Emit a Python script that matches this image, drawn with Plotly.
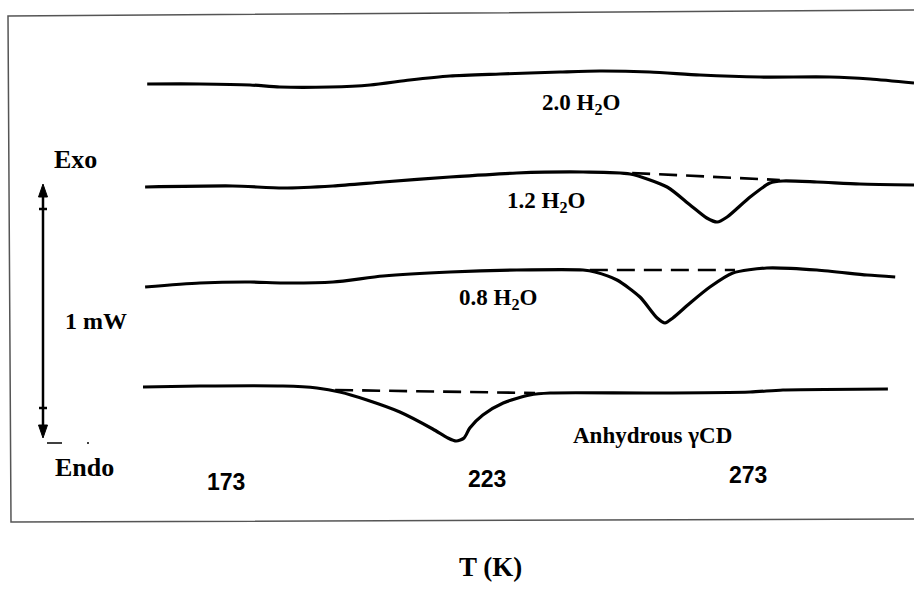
import plotly.graph_objects as go

# DSC thermograms of gamma-cyclodextrin at different hydration levels
# Temperature in K; heat flow in mW relative to each trace's own baseline.
W, H = 914, 593

T_20 = [157.9, 168.0, 177.6, 183.3, 192.9, 200.6, 208.2, 215.9, 225.5, 237.0,
        244.6, 254.2, 263.8, 275.3, 288.7, 296.4, 304.8]
Q_20 = [-0.005, -0.005, -0.01, -0.02, -0.02, -0.01, 0.015, 0.035, 0.045, 0.055,
        0.06, 0.055, 0.04, 0.03, 0.03, 0.02, 0.0]

T_12 = [157.5, 174.3, 183.9, 193.5, 203.1, 215.9, 228.7, 241.4, 250.4, 257.5,
        261.9, 265.1, 267.1, 269.0, 273.4, 277.2, 279.7, 286.2, 294.4, 304.8]
Q_12 = [-0.01, -0.005, -0.015, -0.005, 0.015, 0.04, 0.06, 0.065, 0.055, -0.01,
        -0.10, -0.165, -0.185, -0.16, -0.06, 0.01, 0.02, 0.015, 0.005, 0.0]

T_08 = [157.5, 168.0, 177.6, 183.9, 193.5, 203.1, 215.9, 228.7, 241.4, 243.7,
        247.9, 252.3, 255.6, 257.1, 258.6, 261.9, 265.7, 270.1, 276.6, 286.2,
        295.8, 301.2]
Q_08 = [0.0, 0.02, 0.025, 0.02, 0.025, 0.055, 0.075, 0.085, 0.085, 0.075,
        0.035, -0.05, -0.155, -0.18, -0.155, -0.08, 0.0, 0.07, 0.095, 0.085,
        0.06, 0.05]

T_anh = [157.1, 168.0, 183.9, 190.4, 194.8, 200.0, 206.3, 212.6, 215.5, 217.1,
         218.6, 219.7, 222.2, 226.1, 231.2, 235.1, 254.2, 273.4, 279.7, 299.8]
Q_anh = [0.0, 0.005, 0.005, -0.005, -0.025, -0.065, -0.125, -0.21, -0.255, -0.27,
         -0.255, -0.205, -0.14, -0.08, -0.04, -0.03, -0.03, -0.025, -0.015, -0.01]

# Interpolated baselines under the endotherms (start T, end T, start Q, end Q)
base_12 = ([250.8, 279.1], [0.06, 0.025])
base_08 = ([242.7, 270.5], [0.085, 0.085])
base_anh = ([193.9, 232.2], [-0.015, -0.03])

# Vertical stacking offsets (mW) of the four traces
offsets = {"2.0": 2.55, "1.2": 2.04, "0.8": 1.53, "anh": 1.03}

tick_T = [173, 223, 273]
tick_text = ["173", "223", "273"]

X_RANGE = [129.7, 304.8]
Y_RANGE = [0.0, H / 200.0]

fig = go.Figure()

def trace(T, Q, off, dash=None, width=3.2):
    fig.add_trace(go.Scatter(
        x=T, y=[q + off for q in Q], mode="lines",
        line=dict(color="black", width=width, dash=dash,
                  shape="linear" if dash else "spline", smoothing=0.7),
        hoverinfo="skip", showlegend=False))

trace(T_20, Q_20, offsets["2.0"])
trace(T_12, Q_12, offsets["1.2"])
trace(T_08, Q_08, offsets["0.8"])
trace(T_anh, Q_anh, offsets["anh"])
trace(base_12[0], base_12[1], offsets["1.2"], dash="18px,9px", width=2.6)
trace(base_08[0], base_08[1], offsets["0.8"], dash="18px,9px", width=2.6)
trace(base_anh[0], base_anh[1], offsets["anh"], dash="18px,9px", width=2.6)

def px(x):
    return x / W

def py(y):
    return 1 - y / H

shapes = []
# Frame around the plot
frame = [(8, 16), (916, 10), (916, 519), (11, 522)]
path = "M " + " L ".join(f"{px(a)},{py(b)}" for a, b in frame) + " Z"
shapes.append(dict(type="path", xref="paper", yref="paper", path=path,
                   line=dict(color="#555555", width=1.5)))

# Exo/Endo scale arrow (1 mW between the crossbars)
ax = 43
shapes.append(dict(type="line", xref="paper", yref="paper",
                   x0=px(ax), x1=px(ax), y0=py(192), y1=py(431),
                   line=dict(color="black", width=2.5)))
for yb in (209, 408):
    shapes.append(dict(type="line", xref="paper", yref="paper",
                       x0=px(ax - 4), x1=px(ax + 4), y0=py(yb), y1=py(yb),
                       line=dict(color="black", width=2.5)))
up = [(ax, 184), (ax - 4.5, 197), (ax + 4.5, 197)]
dn = [(ax, 438), (ax - 4.5, 425), (ax + 4.5, 425)]
for tri in (up, dn):
    p = "M " + " L ".join(f"{px(a)},{py(b)}" for a, b in tri) + " Z"
    shapes.append(dict(type="path", xref="paper", yref="paper", path=p,
                       fillcolor="black", line=dict(color="black", width=1)))
shapes.append(dict(type="line", xref="paper", yref="paper",
                   x0=px(47), x1=px(62), y0=py(443), y1=py(443),
                   line=dict(color="black", width=1.5)))
shapes.append(dict(type="line", xref="paper", yref="paper",
                   x0=px(87), x1=px(89), y0=py(443), y1=py(443),
                   line=dict(color="black", width=1.5)))

serif = "Liberation Serif"
annotations = []

def text(x, y, s, size, family=serif):
    annotations.append(dict(x=px(x), y=py(y), xref="paper", yref="paper",
                            text=f"<b>{s}</b>", showarrow=False,
                            font=dict(family=family, size=size, color="black"),
                            xanchor="center", yanchor="middle"))

text(75, 160, "Exo", 26)
text(96, 321, "1 mW", 24)
text(84, 467, "Endo", 26)
text(581, 104, "2.0 H<sub>2</sub>O", 23)
text(546, 202, "1.2 H<sub>2</sub>O", 23)
text(498, 299, "0.8 H<sub>2</sub>O", 23)
text(652, 435, "Anhydrous γCD", 23)
text(490, 567, "T (K)", 27)

tick_y = [482, 479, 475]
for t, s, yy in zip(tick_T, tick_text, tick_y):
    annotations.append(dict(x=t, y=py(yy), xref="x", yref="paper",
                            text=f"<b>{s}</b>", showarrow=False,
                            font=dict(family="Liberation Sans", size=23,
                                      color="black"),
                            xanchor="center", yanchor="middle"))

fig.update_layout(
    width=W, height=H,
    margin=dict(l=0, r=0, t=0, b=0),
    paper_bgcolor="white", plot_bgcolor="white",
    xaxis=dict(range=X_RANGE, visible=False, fixedrange=True),
    yaxis=dict(range=Y_RANGE, visible=False, fixedrange=True),
    shapes=shapes, annotations=annotations,
    showlegend=False,
)

fig.write_html("out.html")
